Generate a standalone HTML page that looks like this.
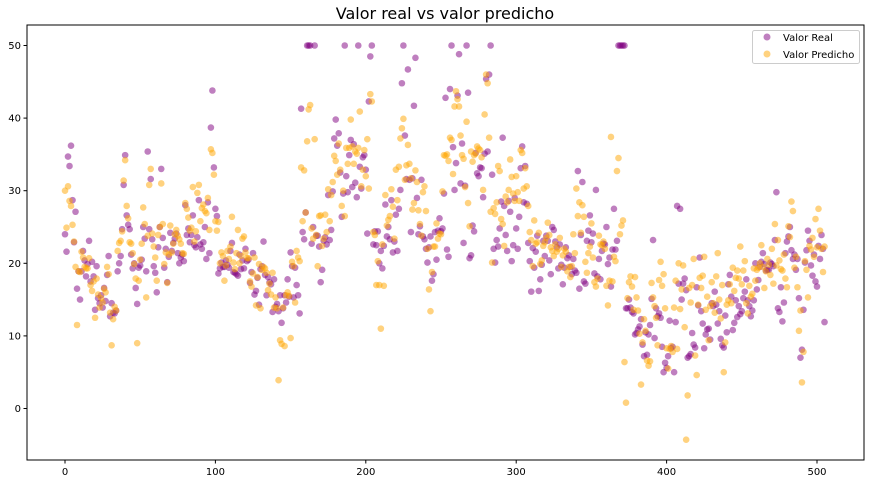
<!DOCTYPE html>
<html><head><meta charset="utf-8"><style>
body{margin:0;background:#fff;}
svg{display:block;font-family:"DejaVu Sans","Liberation Sans",sans-serif;}
</style></head><body>
<svg id="chart" width="871" height="484">
<text x="445" y="19" font-size="16" text-anchor="middle">Valor real vs valor predicho</text>
<g id="ticks"></g>
<g id="pts"></g>
<rect x="27" y="25" width="837" height="435" fill="none" stroke="#000" stroke-width="1"/>
<g>
<rect x="752.5" y="30.5" width="107" height="33" rx="2" fill="#fff" fill-opacity="0.8" stroke="#ccc"/>
<g><circle cx="767" cy="37" r="3.5" fill="#800080" fill-opacity="0.5"/><text x="783" y="41" font-size="10">Valor Real</text></g>
<g><circle cx="767" cy="54" r="3.5" fill="#FFA500" fill-opacity="0.5"/><text x="783" y="58" font-size="10">Valor Predicho</text></g>
</g>
</svg>
<script>
const realValues=[24.0,21.6,34.7,33.4,36.2,28.7,22.9,27.1,16.5,18.9,15.0,18.9,21.7,20.4,18.2,19.9,23.1,17.5,20.2,18.2,13.6,19.6,15.2,14.5,15.6,13.9,16.6,14.8,18.4,21.0,12.7,14.5,13.2,13.1,13.5,18.9,20.0,21.0,24.7,30.8,34.9,26.6,25.3,24.7,21.2,19.3,20.0,16.6,14.4,19.4,19.7,20.5,25.0,23.4,18.9,35.4,24.7,31.6,23.3,19.6,18.7,16.0,22.2,25.0,33.0,23.5,19.4,22.0,17.4,20.9,24.2,21.7,22.8,23.4,24.1,21.4,20.0,20.8,21.2,20.3,28.0,23.9,24.8,22.9,23.9,26.6,22.5,22.2,23.6,28.7,22.6,22.0,22.9,25.0,20.6,28.4,21.4,38.7,43.8,33.2,27.5,26.5,18.6,19.3,20.1,19.5,19.5,20.4,19.8,19.4,21.7,22.8,18.8,18.7,18.5,18.3,21.2,19.2,20.4,19.3,22.0,20.3,20.5,17.3,18.8,21.4,15.7,16.2,18.0,14.3,19.2,19.6,23.0,18.4,15.6,18.1,17.4,17.1,13.3,17.8,14.0,14.4,13.4,15.6,11.8,13.8,15.6,14.6,17.8,15.4,21.5,19.6,15.3,19.4,17.0,15.6,13.1,41.3,24.3,23.3,27.0,50.0,50.0,50.0,22.7,25.0,50.0,23.8,23.8,22.3,17.4,19.1,23.1,23.6,22.6,29.4,23.2,24.6,29.9,37.2,39.8,36.2,37.9,32.5,26.4,29.6,50.0,32.0,29.8,34.9,37.0,30.5,36.4,31.1,29.1,50.0,33.3,30.3,34.6,34.9,32.9,24.1,42.3,48.5,50.0,22.6,24.4,22.5,24.4,20.0,21.7,19.3,22.4,28.1,23.7,25.0,23.3,28.7,21.5,23.0,26.7,21.7,27.5,30.1,44.8,50.0,37.6,31.6,46.7,31.5,24.3,31.7,41.7,48.3,29.0,24.0,25.1,31.5,23.7,23.3,22.0,20.1,22.2,23.7,17.6,18.5,24.3,20.5,24.5,26.2,24.4,24.8,29.6,42.8,21.9,20.9,44.0,50.0,36.0,30.1,33.8,43.1,48.8,31.0,36.5,22.8,30.7,50.0,43.5,20.7,21.1,25.2,24.4,35.2,32.4,32.0,33.2,33.1,29.1,35.1,45.4,35.4,46.0,50.0,32.2,22.0,20.1,23.2,22.3,24.8,28.5,37.3,27.9,23.9,21.7,28.6,27.1,20.3,22.5,29.0,24.8,22.0,26.4,33.1,36.1,28.4,33.4,28.2,22.8,20.3,16.1,22.1,19.4,21.6,23.8,16.2,17.8,19.8,23.1,21.0,23.8,23.1,20.4,18.5,25.0,24.6,23.0,22.2,19.3,22.6,19.8,17.1,19.4,22.2,20.7,21.1,19.5,18.5,20.6,19.0,18.7,32.7,16.5,23.9,31.2,17.5,17.2,23.1,24.5,26.6,22.9,24.1,18.6,30.1,18.2,20.6,17.8,21.7,22.7,22.6,25.0,19.9,20.8,16.8,21.9,27.5,21.9,23.1,50.0,50.0,50.0,50.0,50.0,13.8,13.8,15.0,13.9,13.3,13.1,10.2,10.4,10.9,11.3,12.3,8.8,7.2,10.5,7.4,10.2,11.5,15.1,23.2,9.7,13.8,12.7,13.1,12.5,8.5,5.0,6.3,5.6,7.2,12.1,8.3,8.5,5.0,11.9,27.9,17.2,27.5,15.0,17.2,17.9,16.3,7.0,7.2,7.5,10.4,8.8,8.4,16.7,14.2,20.8,13.4,11.7,8.3,10.2,10.9,11.0,9.5,14.5,14.1,16.1,14.3,11.7,13.4,9.6,8.7,8.4,12.8,10.5,17.1,18.4,15.4,10.8,11.8,14.9,12.6,14.1,13.0,13.4,15.2,16.1,17.8,14.9,14.1,12.7,13.5,14.9,20.0,16.4,17.7,19.5,20.2,21.4,19.9,19.0,19.1,19.1,20.1,19.9,19.6,23.2,29.8,13.8,13.3,16.7,12.0,14.6,21.4,23.0,23.7,25.0,21.8,20.6,21.2,19.1,20.6,15.2,7.0,8.1,13.6,20.1,21.8,24.5,23.1,19.7,18.3,21.2,17.5,16.8,22.4,20.6,23.9,22.0,11.9];
const predValues=[30.0,24.9,30.6,28.6,27.9,25.3,23.0,19.5,11.5,18.9,18.8,21.6,20.8,19.5,19.3,19.3,20.7,17.0,16.2,17.5,12.5,17.9,15.7,13.9,15.2,14.6,16.5,16.0,19.5,18.5,13.2,8.7,12.3,14.0,13.5,21.7,22.8,23.1,24.4,31.4,34.2,27.9,26.2,22.9,22.7,21.4,19.9,17.9,9.0,17.6,20.5,22.7,27.7,25.4,15.3,23.8,30.8,33.0,24.1,22.3,20.8,17.6,23.9,25.0,31.0,25.4,19.9,21.5,17.3,21.2,25.2,21.5,22.7,24.0,24.6,23.8,23.3,22.7,21.4,21.3,28.3,27.5,26.3,24.5,24.9,30.5,23.0,24.4,29.7,30.8,25.8,27.6,28.1,27.2,26.9,29.0,24.6,35.7,35.2,32.2,25.8,24.5,25.7,20.0,21.5,21.0,17.6,19.7,21.7,20.6,22.3,26.4,20.1,19.2,21.4,24.6,20.0,21.0,23.4,23.7,21.5,20.7,20.7,17.5,16.8,18.6,20.8,14.2,18.1,19.9,13.8,19.1,19.5,19.3,18.7,16.3,17.2,15.7,18.7,13.9,15.3,13.8,3.9,9.4,8.9,13.9,8.6,15.6,16.0,15.5,9.7,20.2,19.6,14.6,21.7,20.8,20.3,33.2,25.8,32.8,27.0,36.8,41.2,41.8,24.8,23.4,37.1,23.9,19.6,26.5,26.6,22.4,23.4,26.7,24.3,30.2,25.8,29.4,31.2,34.8,34.1,32.2,36.5,32.9,27.9,30.0,26.5,35.9,33.7,35.9,39.8,36.1,33.7,35.4,35.1,35.9,40.9,30.6,32.9,35.6,32.0,37.1,30.3,43.3,42.3,24.3,23.9,17.0,20.3,17.0,11.0,22.6,16.9,29.4,25.2,26.0,26.5,30.2,27.8,23.4,32.9,28.7,33.3,37.2,38.6,39.9,31.5,33.5,36.3,33.7,31.7,27.4,28.3,32.8,31.2,27.3,25.4,23.8,29.8,30.6,27.2,22.0,16.4,13.4,18.8,22.3,22.3,25.5,23.4,24.1,24.0,29.9,34.9,34.8,35.0,34.1,37.3,37.0,32.3,41.6,43.7,42.6,41.6,37.6,34.9,34.4,30.5,39.5,28.3,25.1,35.4,34.0,34.9,35.1,36.1,35.8,35.6,34.6,30.1,40.5,46.0,44.8,37.3,27.1,20.1,27.6,26.8,28.4,33.4,32.7,26.1,25.4,22.4,29.2,28.4,30.1,34.3,31.9,29.6,28.6,32.0,29.8,28.6,35.6,35.2,30.3,33.1,30.6,27.9,24.3,23.2,19.6,25.9,22.7,22.9,24.2,19.9,20.4,22.4,22.9,23.5,25.6,23.9,22.2,21.7,21.0,22.6,21.6,22.0,23.5,19.5,21.1,22.0,21.6,18.9,19.5,18.1,19.6,24.0,21.4,30.3,26.5,28.4,24.2,28.0,26.4,20.2,18.7,21.4,22.3,25.5,20.8,17.4,16.8,17.9,23.8,22.6,22.5,23.0,22.0,16.9,14.2,17.6,37.4,17.5,20.9,20.3,32.7,34.5,24.0,25.2,25.9,6.4,0.8,15.2,17.4,18.2,16.8,13.6,18.1,15.3,13.5,10.3,3.3,9.1,12.3,10.7,6.6,5.9,6.5,17.3,15.3,14.1,12.5,8.7,17.7,20.2,16.9,18.5,13.8,8.3,5.5,8.2,8.6,7.8,13.9,17.6,8.2,20.0,13.7,16.4,19.7,11.2,-4.3,1.8,16.6,14.6,17.0,20.6,7.3,4.6,14.3,18.0,16.6,18.3,20.9,13.6,15.4,9.4,14.1,17.4,14.5,13.2,18.2,21.4,15.0,12.4,17.0,5.0,9.1,14.3,14.9,17.1,14.5,19.4,16.2,18.0,19.0,17.9,22.3,17.1,19.0,20.3,14.5,13.1,16.9,15.4,15.8,19.3,17.6,19.1,19.4,20.0,22.5,19.5,16.6,18.9,20.6,19.8,18.4,22.0,17.2,25.4,19.7,23.2,20.4,19.2,19.0,21.2,17.9,16.7,25.1,23.6,28.5,27.2,19.4,20.9,16.7,10.7,13.5,3.6,7.8,20.3,19.1,15.3,22.4,21.9,23.5,20.9,26.1,22.2,27.5,24.5,22.0,18.8,22.3];
const xTicks=[0,100,200,300,400,500];
const yTicks=[0,10,20,30,40,50];
const NS='http://www.w3.org/2000/svg';
function xs(v){return 65+(v)*1.504;}
function ys(v){return 408.5-v*7.26;}
const tk=document.getElementById('ticks');
xTicks.forEach(t=>{
  const l=document.createElementNS(NS,'line');
  l.setAttribute('x1',xs(t));l.setAttribute('x2',xs(t));l.setAttribute('y1',460);l.setAttribute('y2',463.5);l.setAttribute('stroke','#000');
  
  
  tk.appendChild(l);
  const tx=document.createElementNS(NS,'text');
  tx.setAttribute('x',xs(t));tx.setAttribute('y',475);tx.setAttribute('font-size','10');tx.setAttribute('text-anchor','middle');tx.textContent=t;
  
  
  tk.appendChild(tx);
});
yTicks.forEach(t=>{
  const l=document.createElementNS(NS,'line');
  l.setAttribute('x1',23.5);l.setAttribute('x2',27);l.setAttribute('y1',ys(t));l.setAttribute('y2',ys(t));l.setAttribute('stroke','#000');
  
  
  tk.appendChild(l);
  const tx=document.createElementNS(NS,'text');
  tx.setAttribute('x',21);tx.setAttribute('y',ys(t)+3.5);tx.setAttribute('font-size','10');tx.setAttribute('text-anchor','end');tx.textContent=t;
  
  
  tk.appendChild(tx);
});
const pg=document.getElementById('pts');
function draw(arr,color,name){
  arr.forEach((v,i)=>{
    const c=document.createElementNS(NS,'circle');
    c.setAttribute('cx',xs(i));c.setAttribute('cy',ys(v));c.setAttribute('r',3.3);
    c.setAttribute('fill',color);c.setAttribute('fill-opacity','0.5');
    
    
    pg.appendChild(c);
  });
}
draw(realValues,'#800080','point-real');
draw(predValues,'#FFA500','point-predicho');
</script>
</body></html>
